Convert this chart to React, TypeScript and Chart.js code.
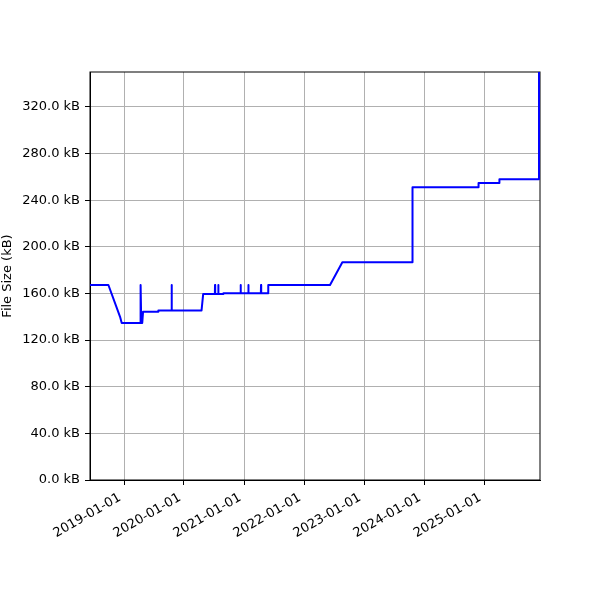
import React, { useEffect, useRef } from "react";
import { Chart, registerables } from "chart.js";

Chart.register(...registerables);

const dates = [
  "2018-06-08", "2018-09-28", "2018-12-08", "2018-12-18",
  "2019-04-10", "2019-04-12", "2019-04-16", "2019-04-22", "2019-04-27",
  "2019-07-28", "2019-07-29",
  "2019-10-17", "2019-10-18", "2019-10-19",
  "2020-04-17", "2020-04-27",
  "2020-07-07", "2020-07-08", "2020-07-09",
  "2020-07-27", "2020-07-28", "2020-07-29",
  "2020-08-27", "2020-08-28",
  "2020-12-10", "2020-12-11", "2020-12-12",
  "2021-01-26", "2021-01-27", "2021-01-28",
  "2021-04-13", "2021-04-14", "2021-04-15",
  "2021-05-27", "2021-05-28",
  "2022-06-08", "2022-08-22",
  "2023-10-22", "2023-10-23",
  "2024-11-27", "2024-11-28",
  "2025-04-03", "2025-04-04",
  "2025-12-01", "2025-12-01",
];

const sizesKB = [
  167.3, 167.3, 140.0, 134.7,
  134.7, 167.3, 134.7, 134.7, 144.4,
  144.4, 145.3,
  145.3, 167.3, 145.3,
  145.5, 159.6,
  159.6, 167.3, 159.6,
  159.6, 167.3, 159.6,
  159.6, 160.2,
  160.2, 167.3, 160.2,
  160.2, 167.3, 160.2,
  160.2, 167.3, 160.2,
  160.2, 167.3,
  167.3, 186.8,
  186.8, 251.1,
  251.1, 254.8,
  254.8, 258.0,
  258.0, 350.0,
];

const xRange = ["2018-06-08", "2025-12-07"];
const yTicks = [0, 40, 80, 120, 160, 200, 240, 280, 320];
const xTickYears = [2019, 2020, 2021, 2022, 2023, 2024, 2025];
const yTitle = "File Size (kB)";

export default function App() {
  const ref = useRef<HTMLCanvasElement | null>(null);

  useEffect(() => {
    document.body.style.margin = "0";
    const toMs = (d: string) => Date.parse(d + "T00:00:00Z");
    const xs = dates.map(toMs);
    const points = xs.map((x, i) => ({ x, y: sizesKB[i] }));
    const font = { family: "'DejaVu Sans', sans-serif", size: 13 };

    const frame = {
      id: "frame",
      beforeDatasetsDraw(chart: any) {
        const { ctx, chartArea: a } = chart;
        ctx.save();
        ctx.strokeStyle = "#000";
        ctx.lineWidth = 1;
        ctx.strokeRect(a.left, a.top, a.right - a.left, a.bottom - a.top);
        ctx.restore();
      },
    };

    const chart = new Chart(ref.current as HTMLCanvasElement, {
      type: "line",
      data: {
        datasets: [
          {
            data: points,
            borderColor: "#0000ff",
            borderWidth: 2,
            pointRadius: 0,
            fill: false,
            tension: 0,
            borderJoinStyle: "round",
          } as any,
        ],
      },
      options: {
        animation: false,
        responsive: false,
        layout: { padding: { top: 72, right: 60, left: 0, bottom: 0 } },
        plugins: {
          legend: { display: false },
          tooltip: { enabled: false },
        },
        scales: {
          x: {
            type: "linear",
            min: toMs(xRange[0]),
            max: toMs(xRange[1]),
            afterBuildTicks: (s: any) => {
              s.ticks = xTickYears.map((y) => ({ value: Date.UTC(y, 0, 1) }));
            },
            afterFit: (s: any) => {
              s.height = 120;
            },
            ticks: {
              autoSkip: false,
              maxRotation: 30,
              minRotation: 30,
              color: "#000",
              font,
              padding: 5,
              labelOffset: -4,
              callback: (v: any) => new Date(v).toISOString().slice(0, 10),
            },
            grid: { color: "#b0b0b0", lineWidth: 1, tickColor: "#000", tickLength: 5 },
            border: { color: "#000", width: 1 },
          },
          y: {
            type: "linear",
            min: 0,
            max: 350,
            afterBuildTicks: (s: any) => {
              s.ticks = yTicks.map((v) => ({ value: v }));
            },
            afterFit: (s: any) => {
              s.width = 90;
            },
            ticks: {
              color: "#000",
              font,
              padding: 5,
              callback: (v: any) => Number(v).toFixed(1) + " kB",
            },
            title: { display: true, text: yTitle, color: "#000", font, padding: 0 },
            grid: { color: "#b0b0b0", lineWidth: 1, tickColor: "#000", tickLength: 5 },
            border: { color: "#000", width: 1 },
          },
        },
      },
      plugins: [frame],
    });
    return () => chart.destroy();
  }, []);

  return (
    <div style={{ position: "absolute", left: 0, top: 0, width: 600, height: 600 }}>
      <canvas ref={ref} width={600} height={600} style={{ width: 600, height: 600 }} />
    </div>
  );
}
